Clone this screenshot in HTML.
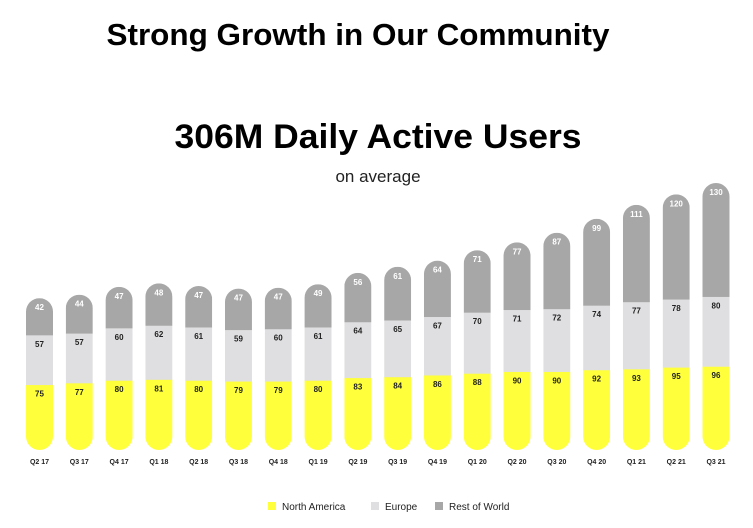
<!DOCTYPE html>
<html><head><meta charset="utf-8"><style>
body{margin:0;background:#fff;width:753px;height:523px;overflow:hidden;font-family:"Liberation Sans",sans-serif}
svg text{font-family:"Liberation Sans",sans-serif}
</style></head><body>
<svg id="c" width="753" height="523">
<text x="358" y="45" text-anchor="middle" font-size="31" font-weight="bold" fill="#000" textLength="503" lengthAdjust="spacingAndGlyphs">Strong Growth in Our Community</text>
<text x="378" y="148" text-anchor="middle" font-size="34" font-weight="bold" fill="#000" textLength="407" lengthAdjust="spacingAndGlyphs">306M Daily Active Users</text>
<text x="378" y="182" text-anchor="middle" font-size="17" fill="#222">on average</text>
<g id="bars"></g>
<g>
<rect x="268" y="502" width="8" height="8" fill="#ffff3c"/>
<text x="282" y="510" font-size="10" fill="#222">North America</text>
<rect x="371" y="502" width="8" height="8" fill="#dfdfe1"/>
<text x="385" y="510" font-size="10" fill="#222">Europe</text>
<rect x="435" y="502" width="8" height="8" fill="#a7a7a7"/>
<text x="449" y="510" font-size="10" fill="#222">Rest of World</text>
</g>
</svg>
<script>
const categories=["Q2 17","Q3 17","Q4 17","Q1 18","Q2 18","Q3 18","Q4 18","Q1 19","Q2 19","Q3 19","Q4 19","Q1 20","Q2 20","Q3 20","Q4 20","Q1 21","Q2 21","Q3 21"];
const northAmerica=[75,77,80,81,80,79,79,80,83,84,86,88,90,90,92,93,95,96];
const europe=[57,57,60,62,61,59,60,61,64,65,67,70,71,72,74,77,78,80];
const restOfWorld=[42,44,47,48,47,47,47,49,56,61,64,71,77,87,99,111,120,130];
const NS="http://www.w3.org/2000/svg";
const g=document.getElementById('bars');
const baseY=450,scale=0.8725,x0=39.5,step=(716-39.5)/17,bw=27;
const xs=i=>x0+i*step, ys=v=>baseY-v*scale;
function mk(tag,attrs){const e=document.createElementNS(NS,tag);for(const k in attrs)e.setAttribute(k,attrs[k]);return e;}
const defs=mk('defs',{});g.appendChild(defs);
categories.forEach((c,i)=>{
  const cx=xs(i),x=cx-bw/2;
  const total=northAmerica[i]+europe[i]+restOfWorld[i];
  const cp=mk('clipPath',{id:'cp'+i});
  cp.appendChild(mk('rect',{x:x,y:ys(total),width:bw,height:total*scale,rx:13.5,ry:13.5}));
  defs.appendChild(cp);
  const grp=mk('g',{'clip-path':'url(#cp'+i+')'});
  
  
  const segs=[[0,northAmerica[i],'#ffff3c','#222','na'],[northAmerica[i],europe[i],'#dfdfe1','#222','eu'],[northAmerica[i]+europe[i],restOfWorld[i],'#a7a7a7','#fff','row']];
  segs.forEach(s=>{
    const r=mk('rect',{x:x,y:ys(s[0]+s[1]),width:bw,height:s[1]*scale+0.5,fill:s[2]});
    
    
    grp.appendChild(r);
  });
  g.appendChild(grp);
  segs.forEach(s=>{
    const t=mk('text',{x:cx,y:ys(s[0]+s[1])+12,'text-anchor':'middle','font-size':8,'font-weight':'bold',fill:s[3]});
    t.textContent=s[1];
    
    
    g.appendChild(t);
  });
  const t=mk('text',{x:cx,y:464,'text-anchor':'middle','font-size':7,'font-weight':'bold',fill:'#222'});
  t.textContent=c;
  
  
  g.appendChild(t);
});
</script>
</body></html>
